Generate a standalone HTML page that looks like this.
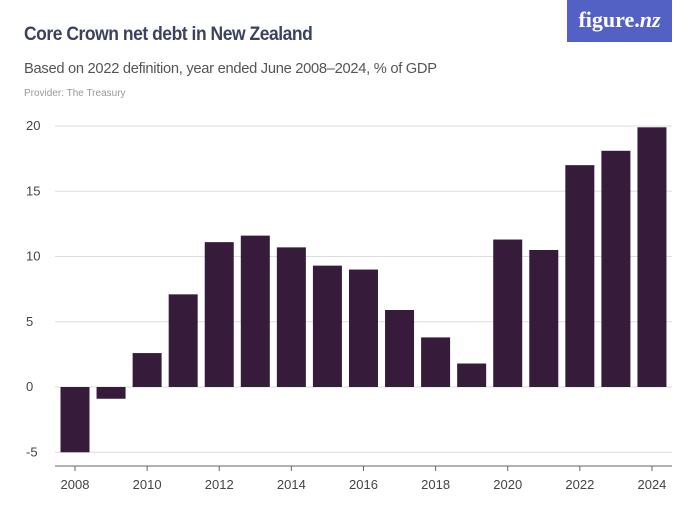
<!DOCTYPE html>
<html><head><meta charset="utf-8"><style>
body{margin:0;background:#fff;width:700px;height:525px;overflow:hidden;font-family:"Liberation Sans",sans-serif;position:relative}
.t{position:absolute;white-space:nowrap}
</style></head><body>
<div class="t" style="left:24px;top:24px;font-size:19px;color:#3b4260;font-weight:bold;letter-spacing:-0.5px;transform:scaleX(0.92);transform-origin:left">Core Crown net debt in New Zealand</div>
<div class="t" style="left:24px;top:60px;font-size:15px;color:#555;letter-spacing:-0.3px;transform:scaleX(0.98);transform-origin:left">Based on 2022 definition, year ended June 2008–2024, % of GDP</div>
<div class="t" style="left:24px;top:88px;font-size:10px;color:#999">Provider: The Treasury</div>
<div style="position:absolute;left:567px;top:0;width:105px;height:42px;background:#5361c4;color:#fff;font-family:'Liberation Serif',serif;font-size:22px;font-weight:bold;text-align:center;line-height:40px">figure.<i>nz</i></div>
<svg id="c" width="700" height="525" style="position:absolute;left:0;top:0"></svg>
<script>
const years=[2008,2009,2010,2011,2012,2013,2014,2015,2016,2017,2018,2019,2020,2021,2022,2023,2024];
const values=[-5.0,-0.9,2.6,7.1,11.1,11.6,10.7,9.3,9.0,5.9,3.8,1.8,11.3,10.5,17.0,18.1,19.9];
const yTicks=[-5,0,5,10,15,20];
const xTicks=[2008,2010,2012,2014,2016,2018,2020,2022,2024];
const svg=document.getElementById('c');const NS='http://www.w3.org/2000/svg';
const y=v=>387-v*13.05;
const x=yr=>75+(yr-2008)*36.06;
function mk(t,a){const e=document.createElementNS(NS,t);for(const k in a)e.setAttribute(k,a[k]);svg.appendChild(e);return e;}
yTicks.forEach(v=>{
 const l=mk('line',{x1:55,x2:672,y1:y(v),y2:y(v),stroke:'#ddd','stroke-width':1});
 
 
 const t=mk('text',{x:26,y:y(v)+4,'font-size':13,fill:'#444','font-family':'Liberation Sans, sans-serif'});t.textContent=v;
 
 
});
years.forEach((yr,i)=>{
 const v=values[i];const top=Math.min(y(v),y(0));const h=Math.abs(y(v)-y(0));
 const r=mk('rect',{x:x(yr)-14.5,y:top,width:29,height:h,fill:'#361c3a'});
 
 
});
mk('line',{x1:55,x2:672,y1:466,y2:466,stroke:'#666','stroke-width':1});
xTicks.forEach(yr=>{
 mk('line',{x1:x(yr),x2:x(yr),y1:466,y2:471,stroke:'#666'});
 const t=mk('text',{x:x(yr),y:489,'font-size':13,fill:'#444','text-anchor':'middle','font-family':'Liberation Sans, sans-serif'});t.textContent=yr;
 
 
});
</script>
</body></html>
